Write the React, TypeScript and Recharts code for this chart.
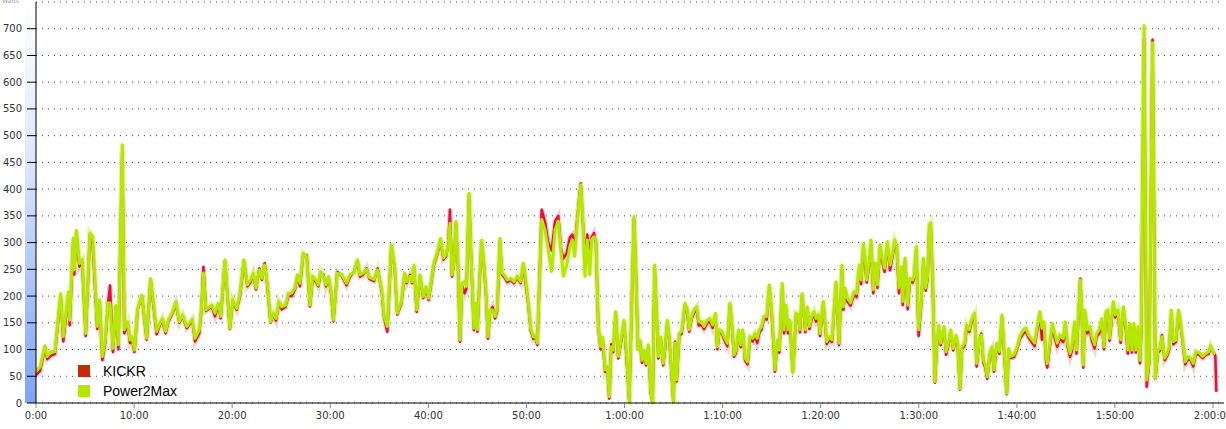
import React from 'react';
import { LineChart, Line, XAxis, YAxis, CartesianGrid } from 'recharts';

// elapsed time in seconds, one entry per sample
const times = [
  0, 25, 55, 69, 90, 116, 151, 167, 198, 206, 228, 234, 247, 265, 283, 304, 330, 347, 375, 389,
  406, 424, 440, 453, 471, 489, 504, 528, 540, 561, 575, 587, 602, 622, 648, 677, 701, 714, 738, 758,
  773, 793, 810, 836, 856, 877, 897, 922, 956, 973, 999, 1012, 1024, 1040, 1075, 1095, 1115, 1130, 1156, 1186,
  // 20 min
  1203, 1228, 1248, 1272, 1293, 1313, 1329, 1346, 1366, 1382, 1399, 1415, 1435, 1452, 1468, 1486, 1503, 1527, 1544, 1564,
  1584, 1599, 1615, 1635, 1656, 1676, 1692, 1713, 1727, 1741, 1758, 1774, 1790, 1807, 1819, 1843, 1870, 1900, 1921, 1945,
  1966, 1982, 2002, 2023, 2039, 2068, 2090, 2115, 2129, 2149, 2174, 2194, 2210, 2235, 2255, 2267, 2288, 2300, 2312, 2329,
  2349, 2369, 2386, 2402,
  // 40 min
  2434, 2455, 2475, 2492, 2508, 2522, 2532, 2545, 2557, 2569, 2581, 2594, 2606, 2622, 2634, 2649, 2663, 2679, 2691, 2700,
  2712, 2726, 2740, 2753, 2765, 2777, 2793, 2808, 2822, 2838, 2850, 2863, 2883, 2903, 2924, 2944, 2965, 2981, 2993, 3012,
  3026, 3042, 3052, 3067, 3079, 3093, 3113, 3134, 3154, 3175, 3195, 3211, 3226, 3246, 3266, 3281, 3295, 3311, 3332, 3344,
  3358, 3372, 3387, 3399, 3413, 3425, 3440, 3454, 3466, 3481, 3495, 3507, 3519, 3531, 3546, 3562, 3576, 3597, 3613, 3629,
  // 1h
  3658, 3670, 3682, 3695, 3707, 3719, 3731, 3746, 3760, 3772, 3784, 3797, 3807, 3821, 3837, 3850, 3862, 3874, 3886, 3899,
  3909, 3919, 3935, 3950, 3970, 3984, 3996, 4011, 4025, 4041, 4054, 4072, 4086, 4107, 4123, 4139, 4156, 4168, 4180, 4196,
  4213, 4229, 4245, 4257, 4270, 4282, 4298, 4310, 4323, 4337, 4353, 4368, 4384, 4398, 4412, 4425, 4439, 4453, 4470, 4486,
  4500, 4510, 4520, 4535, 4547, 4565, 4576, 4588, 4600, 4612, 4629, 4637, 4649, 4663, 4673, 4686, 4698, 4706, 4718, 4731,
  4745, 4759, 4771, 4786, 4796, 4816, 4837, 4853, 4869,
  // 1h20
  4894, 4912, 4930, 4939, 4949, 4963, 4983, 5004, 5020, 5036, 5047, 5061, 5071, 5081, 5098, 5108, 5122, 5134, 5147, 5163,
  5177, 5191, 5208, 5224, 5240, 5253, 5265, 5279, 5295, 5302, 5316, 5332, 5346, 5363, 5371, 5385, 5399, 5416, 5428, 5442,
  5454, 5465, 5473, 5485, 5499, 5509, 5522, 5534, 5554, 5567, 5581, 5595, 5611, 5628, 5638, 5652, 5664, 5681, 5693, 5709,
  5724, 5742, 5754, 5771, 5783, 5795, 5807, 5819, 5836, 5848, 5860, 5876, 5893, 5909, 5921, 5938, 5950, 5962, 5983, 5999,
  6019, 6040, 6056, 6072,
  // 1h40
  6109, 6121, 6141, 6153, 6166, 6178, 6186, 6202, 6217, 6231, 6247, 6263, 6284, 6296, 6310, 6325, 6337, 6353, 6365, 6378,
  6388, 6398, 6406, 6416, 6431, 6447, 6459, 6476, 6488, 6504, 6520, 6533, 6545, 6557, 6567, 6578, 6590, 6602, 6618, 6635,
  6651, 6667, 6679, 6692, 6704, 6716, 6728, 6741, 6753, 6761, 6778, 6794, 6810, 6830, 6847, 6863, 6875, 6887, 6904, 6920,
  6932, 6945, 6957, 6973, 6989, 7002, 7014, 7030, 7046, 7063, 7079, 7095, 7116, 7136, 7157, 7173, 7185, 7202, 7214, 7220,
];

// watts, trainer
const kickr = [
  52, 60, 103, 82, 88, 92, 200, 115, 200, 145, 300, 240, 318, 255, 263, 125, 315, 295, 138, 190,
  80, 113, 185, 220, 95, 180, 100, 470, 130, 148, 112, 118, 95, 175, 200, 118, 230, 195, 128, 146,
  155, 130, 152, 168, 185, 150, 162, 140, 154, 115, 130, 175, 255, 172, 180, 162, 182, 158, 265, 138,
  190, 174, 200, 265, 218, 226, 240, 212, 252, 230, 262, 220, 150, 165, 154, 185, 175, 180, 200, 200,
  212, 236, 218, 278, 276, 180, 234, 226, 218, 242, 240, 218, 233, 202, 152, 245, 238, 220, 236, 245,
  265, 236, 240, 252, 232, 228, 252, 208, 160, 133, 292, 252, 165, 186, 240, 224, 240, 224, 254, 170,
  236, 196, 214, 192,
  258, 278, 304, 268, 274, 296, 362, 236, 262, 336, 258, 114, 220, 205, 215, 388, 258, 136, 183, 133,
  220, 300, 258, 200, 120, 170, 180, 158, 173, 304, 240, 236, 226, 230, 224, 234, 224, 258, 228, 183,
  136, 120, 123, 108, 220, 362, 340, 300, 285, 340, 350, 290, 270, 280, 310, 315, 290, 345, 411, 345,
  270, 315, 280, 310, 318, 300, 140, 100, 120, 58, 65, 8, 110, 95, 167, 83, 108, 150, 82, 2,
  345, 240, 105, 115, 75, 95, 70, 105, 20, 0, 254, 158, 83, 120, 70, 108, 150, 120, 64, 2,
  115, 40, 126, 130, 183, 168, 133, 158, 168, 176, 145, 146, 138, 150, 152, 140, 164, 100, 133, 130,
  116, 106, 183, 144, 86, 94, 133, 104, 133, 80, 72, 120, 115, 125, 112, 132, 138, 158, 156, 216,
  168, 118, 58, 112, 94, 218, 130, 175, 130, 150, 60, 92, 164, 160, 132, 200, 163, 132, 175, 138,
  157, 166, 152, 160, 125, 186, 110, 118, 114,
  222, 108, 250, 174, 208, 190, 182, 202, 198, 250, 222, 290, 262, 225, 260, 296, 205, 255, 215, 288,
  265, 245, 295, 248, 275, 298, 290, 205, 250, 183, 265, 175, 228, 225, 232, 288, 125, 188, 265, 210,
  232, 330, 335, 225, 38, 100, 140, 108, 138, 90, 108, 132, 98, 122, 108, 25, 100, 108, 140, 133,
  152, 163, 68, 118, 130, 76, 66, 45, 92, 100, 58, 108, 92, 160, 100, 16, 98, 84, 86, 98,
  120, 130, 133, 122,
  106, 130, 165, 118, 145, 80, 66, 106, 142, 122, 105, 120, 114, 145, 106, 86, 98, 146, 92, 168,
  233, 160, 66, 168, 130, 136, 116, 102, 124, 130, 152, 100, 165, 168, 116, 148, 185, 160, 168, 112,
  174, 136, 92, 144, 94, 142, 94, 136, 74, 132, 681, 30, 76, 680, 45, 94, 98, 127, 80, 88,
  100, 168, 110, 114, 170, 144, 114, 72, 82, 80, 68, 92, 90, 84, 90, 92, 104, 94, 88, 21,
];

// watts, crank meter
const power2max = [
  60, 67, 107, 87, 96, 96, 205, 124, 208, 155, 308, 249, 323, 261, 268, 130, 318, 311, 143, 193,
  87, 118, 187, 187, 102, 183, 109, 483, 137, 152, 118, 124, 99, 177, 202, 121, 233, 199, 134, 149,
  158, 134, 155, 171, 190, 152, 165, 143, 157, 121, 137, 178, 243, 174, 183, 168, 187, 162, 268, 140,
  193, 177, 205, 268, 221, 230, 243, 215, 249, 233, 258, 224, 152, 168, 158, 190, 180, 183, 205, 206,
  215, 240, 224, 280, 274, 183, 237, 230, 221, 246, 237, 221, 237, 205, 155, 243, 240, 224, 240, 243,
  268, 240, 243, 250, 235, 231, 249, 212, 162, 143, 296, 255, 168, 190, 243, 227, 237, 227, 258, 174,
  240, 199, 218, 196,
  262, 281, 308, 271, 277, 296, 336, 240, 265, 340, 262, 118, 224, 227, 218, 393, 262, 140, 187, 137,
  224, 305, 262, 205, 124, 174, 174, 162, 177, 308, 243, 240, 230, 233, 227, 237, 227, 262, 237, 187,
  140, 124, 127, 112, 224, 343, 324, 287, 246, 324, 340, 287, 237, 258, 293, 305, 274, 340, 408, 349,
  237, 305, 240, 305, 311, 305, 143, 105, 124, 62, 68, 12, 105, 99, 171, 87, 112, 155, 87, 3,
  349, 243, 99, 118, 80, 99, 74, 109, 24, 0, 258, 162, 87, 124, 74, 112, 155, 124, 68, 3,
  112, 43, 130, 134, 187, 174, 137, 162, 174, 180, 152, 152, 143, 155, 158, 146, 168, 105, 137, 134,
  121, 112, 187, 149, 90, 99, 137, 109, 137, 84, 77, 124, 121, 130, 121, 137, 143, 162, 162, 221,
  174, 124, 62, 118, 99, 224, 137, 183, 137, 155, 56, 96, 168, 165, 137, 205, 168, 137, 180, 143,
  162, 171, 158, 165, 130, 190, 115, 124, 118,
  227, 112, 258, 180, 215, 196, 187, 208, 205, 258, 230, 299, 274, 230, 268, 305, 212, 262, 221, 296,
  271, 252, 302, 258, 280, 305, 296, 215, 255, 190, 271, 183, 233, 230, 237, 293, 137, 193, 271, 215,
  237, 333, 337, 230, 40, 105, 146, 112, 143, 96, 112, 137, 102, 127, 112, 27, 105, 112, 146, 137,
  158, 168, 74, 121, 127, 80, 71, 49, 96, 105, 62, 112, 96, 165, 105, 18, 102, 87, 90, 102,
  124, 137, 140, 127,
  112, 137, 171, 140, 152, 87, 74, 112, 149, 130, 112, 127, 121, 152, 112, 93, 105, 152, 99, 174,
  230, 168, 71, 174, 137, 143, 124, 109, 130, 137, 158, 105, 171, 174, 121, 155, 190, 165, 174, 118,
  180, 143, 99, 149, 99, 149, 99, 143, 80, 137, 706, 43, 80, 674, 46, 99, 102, 124, 84, 93,
  105, 174, 115, 118, 174, 149, 118, 77, 87, 84, 74, 96, 94, 87, 93, 96, 107, 94, 92, null,
];

const yTicks = [0, 50, 100, 150, 200, 250, 300, 350, 400, 450, 500, 550, 600, 650, 700];
const xTicks = [0, 600, 1200, 1800, 2400, 3000, 3600, 4200, 4800, 5400, 6000, 6600, 7200];

const series = [
  { key: 'kickr', name: 'KICKR', swatch: '#c42a0a', stroke: '#e3113a', halo: '#f7b4c3', width: 2.5 },
  { key: 'power2max', name: 'Power2Max', swatch: '#b4e600', stroke: '#b5e700', halo: '#dcf38e', width: 3 },
];

const data = times.map((t, i) => ({ t, kickr: kickr[i], power2max: power2max[i] }));

function fmtTime(s: number) {
  const h = Math.floor(s / 3600);
  const m = Math.floor((s % 3600) / 60);
  const sec = s % 60;
  const ss = String(sec).padStart(2, '0');
  if (h > 0) return `${h}:${String(m).padStart(2, '0')}:${ss}`;
  return `${m}:${ss}`;
}

const tickFont = { fill: '#333', fontSize: 10, fontFamily: 'DejaVu Sans, sans-serif' };

export default function App() {
  return (
    <div style={{ position: 'absolute', left: 0, top: 0, width: 1226, height: 429, background: '#fff', overflow: 'hidden' }}>
      {/* shaded zone strip beside the y axis */}
      <div style={{ position: 'absolute', left: 25, top: 3, width: 11, height: 400, background: 'linear-gradient(to bottom, #ffffff, #dce6fc 40%, #7fa2f4)' }} />
      <span style={{ position: 'absolute', left: 2, top: -3, fontSize: 6, color: '#999', fontFamily: 'DejaVu Sans, sans-serif' }}>Watts</span>
      <div style={{ position: 'absolute', left: 0, top: 0 }}>
        <LineChart width={1226} height={429} data={data} margin={{ top: 2, right: 2, bottom: 0, left: 0 }}>
          <CartesianGrid vertical={false} stroke="#444" strokeDasharray="1 5" />
          <XAxis
            dataKey="t"
            type="number"
            domain={[0, 7267]}
            ticks={xTicks}
            interval={0}
            tickFormatter={fmtTime}
            height={26}
            stroke="#000"
            tickLine={{ stroke: '#888' }}
            tickSize={5}
            tickMargin={4}
            tick={tickFont}
          />
          <YAxis
            type="number"
            domain={[0, 750]}
            ticks={yTicks}
            interval={0}
            width={36}
            stroke="#000"
            tickSize={9}
            tickMargin={5}
            tick={tickFont}
          />
          {series.map((s) => (
            <Line key={s.key + '-halo'} dataKey={s.key} type="linear" dot={false} stroke={s.halo} strokeWidth={s.width + 2.5} strokeOpacity={0.7} isAnimationActive={false} legendType="none" />
          ))}
          {series.map((s) => (
            <Line key={s.key} dataKey={s.key} name={s.name} type="linear" dot={false} stroke={s.stroke} strokeWidth={s.width} strokeLinejoin="round" isAnimationActive={false} />
          ))}
        </LineChart>
      </div>
      <div style={{ position: 'absolute', left: 78, top: 361, fontFamily: 'Liberation Sans, Arial, sans-serif', fontSize: 14, color: '#000' }}>
        {series.map((s) => (
          <div key={s.key} style={{ display: 'flex', alignItems: 'center', height: 20 }}>
            <span style={{ display: 'inline-block', width: 12, height: 12, background: s.swatch, marginRight: 13 }} />
            <span>{s.name}</span>
          </div>
        ))}
      </div>
    </div>
  );
}
